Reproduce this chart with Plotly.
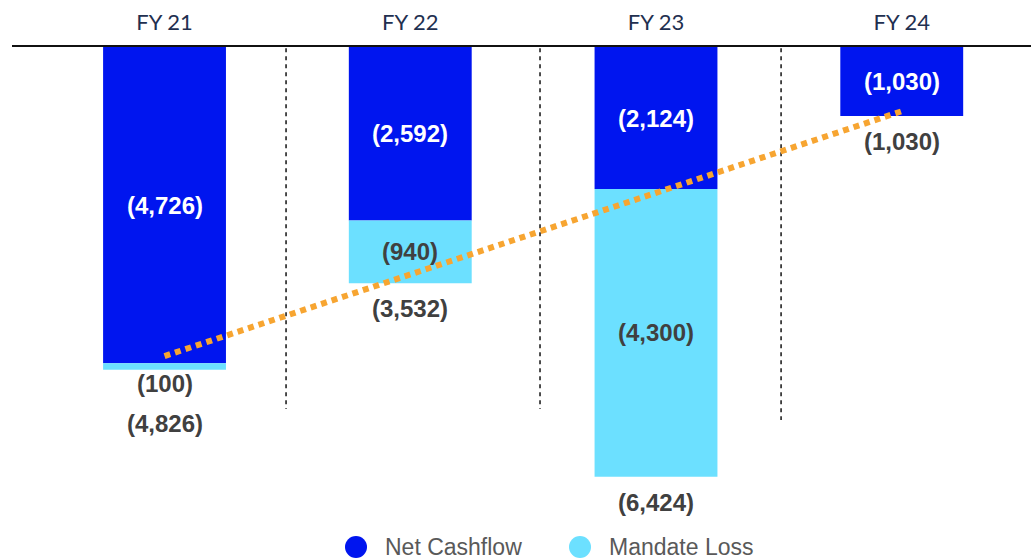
import plotly.graph_objects as go

# ---- data ----
categories = ["FY 21", "FY 22", "FY 23", "FY 24"]
net_cashflow = [-4726, -2592, -2124, -1030]
mandate_loss = [-100, -940, -4300, 0]
totals = [-4826, -3532, -6424, -1030]
trend_categories = ["FY 21", "FY 24"]
trend_values = [-4620, -960]
legend_names = ["Net Cashflow", "Mandate Loss"]

# ---- style ----
C_NET = "#0015EF"
C_LOSS = "#6CE0FF"
C_TREND = "#F7A531"
C_LABEL = "#404040"
W, H = 1031, 560
M_L, M_R, M_T, M_B = 12, 0, 47, 40
Y_MIN = -7070
X_RANGE = [-0.6207, 3.526]
plot_h = H - M_T - M_B
px_per_unit = plot_h / (-Y_MIN)

LBL_FONT = dict(family="Arial, Liberation Sans, sans-serif", size=24)

fig = go.Figure()
fig.add_trace(go.Bar(x=categories, y=net_cashflow, name=legend_names[0],
                     marker=dict(color=C_NET, line=dict(width=0)), width=0.5,
                     showlegend=False, hoverinfo="x+y"))
fig.add_trace(go.Bar(x=categories, y=mandate_loss, name=legend_names[1],
                     marker=dict(color=C_LOSS, line=dict(width=0)), width=0.5,
                     showlegend=False, hoverinfo="x+y"))
fig.add_trace(go.Scatter(x=trend_categories, y=trend_values, mode="lines",
                         line=dict(color=C_TREND, width=6, dash="6px,5px"),
                         showlegend=False, hoverinfo="skip"))

fmt = lambda v: f"({abs(v):,})"
ann = []
for c, n, m, t in zip(categories, net_cashflow, mandate_loss, totals):
    ann.append(dict(x=c, y=n / 2, text=fmt(n), showarrow=False,
                    font=dict(LBL_FONT, color="#FFFFFF", weight="bold")))
    extra = 0
    if m != 0:
        if abs(m) * px_per_unit < 30:
            ann.append(dict(x=c, y=t, text=fmt(m), showarrow=False, yanchor="top",
                            yshift=2, font=dict(LBL_FONT, color=C_LABEL, weight="bold")))
            extra = 28
        else:
            ann.append(dict(x=c, y=n + m / 2, text=fmt(m), showarrow=False,
                            font=dict(LBL_FONT, color=C_LABEL, weight="bold")))
    ann.append(dict(x=c, y=t, text=fmt(t), showarrow=False, yanchor="top",
                    yshift=-10 - extra, font=dict(LBL_FONT, color=C_LABEL, weight="bold")))

# manual legend (large circle markers)
leg_y = (H - M_B - 547) / plot_h
leg_items = [(356, legend_names[0], C_NET), (580, legend_names[1], C_LOSS)]
shapes = []
for px_x, name, col in leg_items:
    xp = (px_x - M_L) / (W - M_L - M_R)
    shapes.append(dict(type="circle", xref="paper", yref="paper", xsizemode="pixel",
                       ysizemode="pixel", xanchor=xp, yanchor=leg_y,
                       x0=-11, x1=11, y0=-11, y1=11, fillcolor=col, line=dict(width=0)))
    ann.append(dict(x=(px_x + 27 - M_L) / (W - M_L - M_R), y=leg_y, xref="paper", yref="paper",
                    text=name, showarrow=False, xanchor="left", yanchor="middle",
                    font=dict(family="Arial, Liberation Sans, sans-serif", size=23, color="#595959")))

# dashed separators between years
for xs, yend in [(0.4945, -5410), (1.528, -5410), (2.509, -5575)]:
    shapes.append(dict(type="line", xref="x", yref="y", x0=xs, x1=xs, y0=-20, y1=yend,
                       line=dict(color="#222222", width=1.6, dash="4px,4px"), layer="below"))

fig.update_layout(
    width=W, height=H,
    margin=dict(l=M_L, r=M_R, t=M_T, b=M_B, autoexpand=False),
    barmode="relative",
    plot_bgcolor="white", paper_bgcolor="white",
    annotations=ann, shapes=shapes,
    xaxis=dict(side="top", range=X_RANGE, showline=True, linecolor="#111111", linewidth=2,
               showgrid=False, zeroline=False, ticks="", ticklabelstandoff=6, automargin=False,
               tickfont=dict(family="Lato, sans-serif", size=22, color="#1F3050")),
    yaxis=dict(range=[Y_MIN, 0], visible=False, showgrid=False, zeroline=False, automargin=False),
)

fig.write_html("out.html", config={"displayModeBar": False},
               post_script="document.body.style.margin='0';document.body.style.overflow='hidden';")
